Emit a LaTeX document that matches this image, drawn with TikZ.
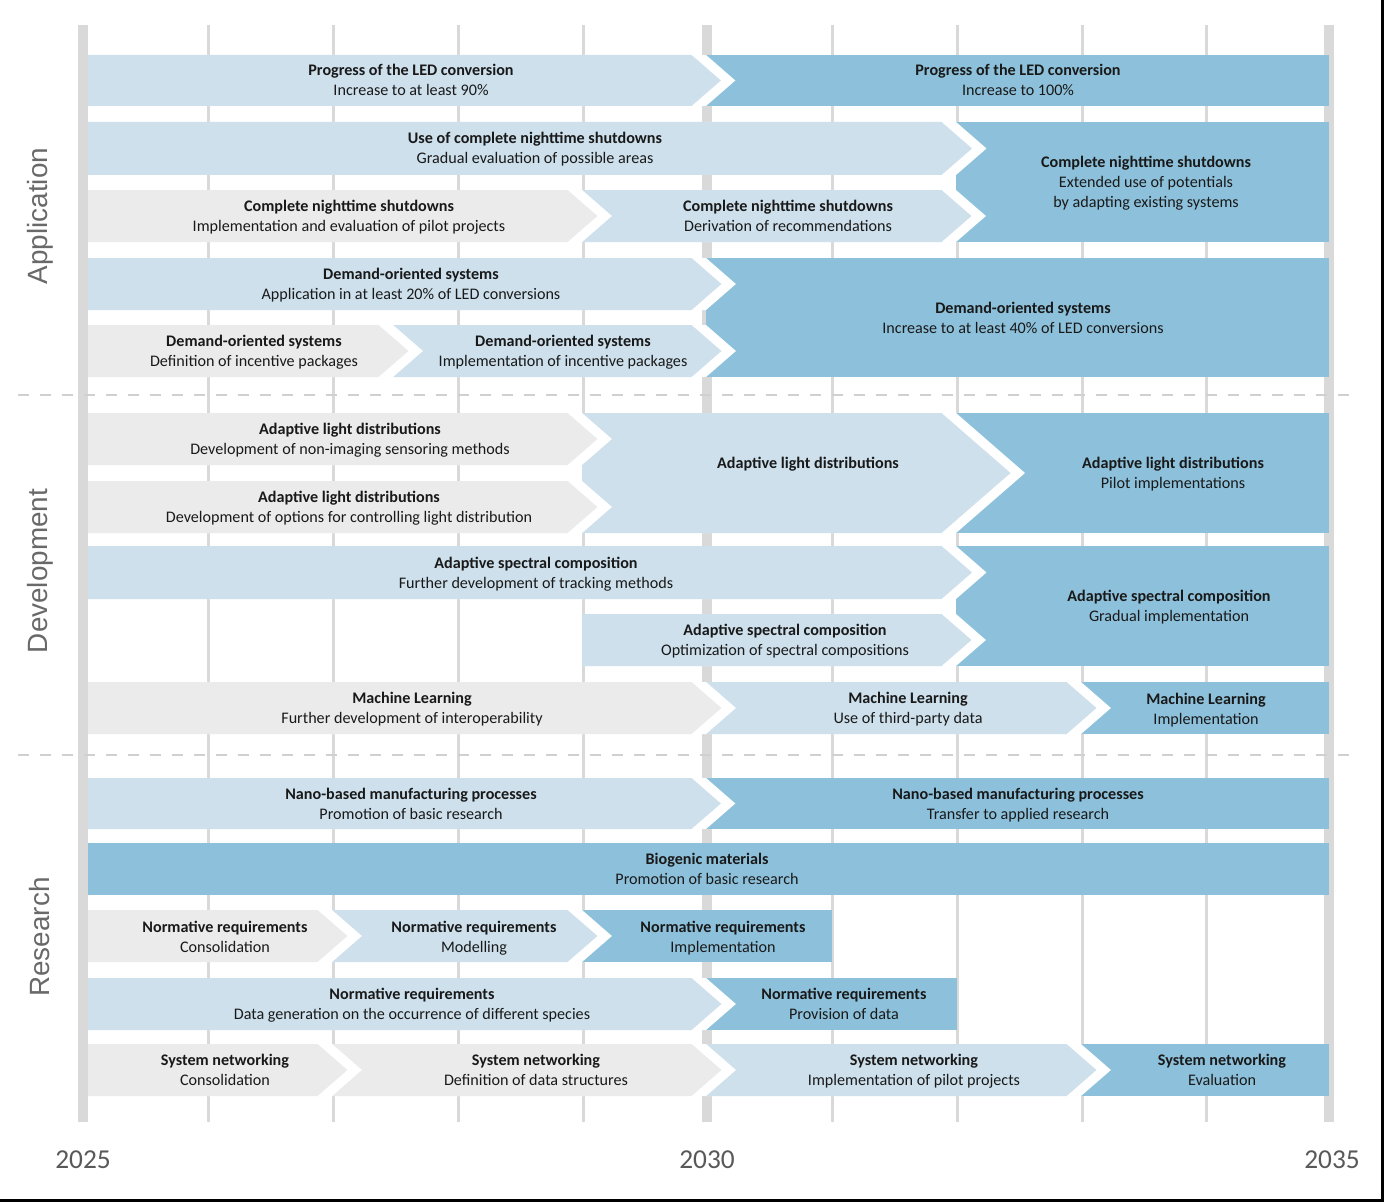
\documentclass[tikz,border=0pt]{standalone}
\usepackage{fontspec}
\setmainfont{Carlito}
\newfontfamily\sidefont{Liberation Sans}
\definecolor{ltblue}{RGB}{205,224,236}
\definecolor{dkblue}{RGB}{141,193,219}
\definecolor{graybar}{RGB}{235,235,235}
\definecolor{gridc}{RGB}{217,217,217}
\definecolor{txtc}{RGB}{25,25,25}
\definecolor{yearc}{RGB}{89,89,89}
\definecolor{sidec}{RGB}{105,105,105}
\definecolor{sepc}{RGB}{208,208,208}
\newcommand\arrowbar[5]{%
  \pgfmathsetmacro\xa{#2-15.5}%
  \pgfmathsetmacro\ym{(#3+#4)/2}%
  \pgfmathsetmacro\tp{1.15*(#4-#3)/2}%
  \pgfmathsetmacro\xb{\xa+14.5}%
  \fill[white] (#1,#3) -- (\xb,#3) -- ({\xb+\tp},\ym) -- (\xb,#4) -- (#1,#4) -- cycle;
  \fill[#5] (#1,#3) -- (\xa,#3) -- ({\xa+\tp},\ym) -- (\xa,#4) -- (#1,#4) -- cycle;
}
\begin{document}
\begin{tikzpicture}[x=0.75pt,y=-0.75pt,
  lbl/.style={align=center,inner sep=0pt,text=txtc,anchor=base,yshift=-11.25pt,font=\fontsize{12.1}{15}\selectfont},
  three/.style={yshift=-7.2pt},
  one/.style={yshift=15pt},
  thin grid/.style={draw=gridc,line width=2.25pt},
  thick grid/.style={draw=gridc,line width=7.5pt},
  sepline/.style={draw=sepc,line width=1.5pt,dash pattern=on 8.25pt off 8.25pt},
  yearlbl/.style={text=yearc,inner sep=0pt,font=\fontsize{20.5}{24}\selectfont},
  sidelbl/.style={text=sidec,inner sep=0pt,rotate=90,font=\sidefont\fontsize{20.9}{24}\selectfont}]
\useasboundingbox (0,0) rectangle (1384,1202);
\fill[white] (0,0) rectangle (1384,1202);
% frame (right and bottom)
\draw[black,line width=2.25pt] (0,1200.5) -- (1384,1200.5);
\draw[black,line width=2.25pt] (1382.5,0) -- (1382.5,1202);
% grid
\foreach \gx in {208,333,458,583,832,957,1082,1206}
  \draw[thin grid] (\gx,25) -- (\gx,1122);
\foreach \gx in {83,707,1329}
  \draw[thick grid] (\gx,25) -- (\gx,1122);
% separators
\draw[sepline] (18,395) -- (1356,395);
\draw[sepline] (18,755) -- (1356,755);
% tall dark blocks
\fill[dkblue] (956,122) rectangle (1329,242);
\fill[dkblue] (706,258) rectangle (1329,377);
\fill[dkblue] (956,413) rectangle (1329,533);
\fill[dkblue] (956,546) rectangle (1329,666);
% Row 1
\fill[dkblue] (706,55) rectangle (1329,106);
\arrowbar{88}{707}{55}{106}{ltblue}
% Row 2
\arrowbar{88}{957}{122}{175}{ltblue}
% Row 3
\arrowbar{582}{957}{190}{242}{ltblue}
\arrowbar{88}{583}{190}{242}{graybar}
% Row 4
\arrowbar{88}{707}{258}{310}{ltblue}
% Row 5
\arrowbar{393}{707}{325}{377}{ltblue}
\arrowbar{88}{394}{325}{377}{graybar}
% Rows 6-7
\arrowbar{582}{957}{413}{533}{ltblue}
\arrowbar{88}{583}{413}{465}{graybar}
\arrowbar{88}{583}{481}{533}{graybar}
% Row 8
\arrowbar{88}{957}{546}{599}{ltblue}
% Row 9
\arrowbar{582}{957}{614}{666}{ltblue}
% Row 10
\fill[dkblue] (1081,682) rectangle (1329,734);
\arrowbar{706}{1082}{682}{734}{ltblue}
\arrowbar{88}{707}{682}{734}{graybar}
% Row 11
\fill[dkblue] (706,778) rectangle (1329,829);
\arrowbar{88}{707}{778}{829}{ltblue}
% Row 12
\fill[dkblue] (88,843) rectangle (1329,895);
% Row 13
\fill[dkblue] (582,910) rectangle (832,962);
\arrowbar{332}{583}{910}{962}{ltblue}
\arrowbar{88}{333}{910}{962}{graybar}
% Row 14
\fill[dkblue] (706,978) rectangle (957,1030);
\arrowbar{88}{707}{978}{1030}{ltblue}
% Row 15
\fill[dkblue] (1081,1044) rectangle (1329,1096);
\arrowbar{706}{1082}{1044}{1096}{ltblue}
\arrowbar{332}{707}{1044}{1096}{graybar}
\arrowbar{88}{333}{1044}{1096}{graybar}
% ---------- labels ----------
\node[lbl] (a1) at (411,81) {\textbf{Progress of the LED conversion}\\Increase to at least 90\%};
\node[lbl] (a2) at (1018,81) {\textbf{Progress of the LED conversion}\\Increase to 100\%};
\node[lbl] (a3) at (535,149) {\textbf{Use of complete nighttime shutdowns}\\Gradual evaluation of possible areas};
\node[lbl,three] (a4) at (1146,182.5) {\textbf{Complete nighttime shutdowns}\\Extended use of potentials\\by adapting existing systems};
\node[lbl] (a5) at (349,216.5) {\textbf{Complete nighttime shutdowns}\\Implementation and evaluation of pilot projects};
\node[lbl] (a6) at (788,216.5) {\textbf{Complete nighttime shutdowns}\\Derivation of recommendations};
\node[lbl] (a7) at (411,284.5) {\textbf{Demand-oriented systems}\\Application in at least 20\% of LED conversions};
\node[lbl] (a8) at (1023,318) {\textbf{Demand-oriented systems}\\Increase to at least 40\% of LED conversions};
\node[lbl] (a9) at (254,351.5) {\textbf{Demand-oriented systems}\\Definition of incentive packages};
\node[lbl] (a10) at (563,351.5) {\textbf{Demand-oriented systems}\\Implementation of incentive packages};
\node[lbl] (d1) at (350,439.5) {\textbf{Adaptive light distributions}\\Development of non-imaging sensoring methods};
\node[lbl] (d2) at (349,507.5) {\textbf{Adaptive light distributions}\\Development of options for controlling light distribution};
\node[lbl,one] (d3) at (808,473.5) {\textbf{Adaptive light distributions}};
\node[lbl] (d4) at (1173,473.5) {\textbf{Adaptive light distributions}\\Pilot implementations};
\node[lbl] (d5) at (536,573) {\textbf{Adaptive spectral composition}\\Further development of tracking methods};
\node[lbl] (d6) at (785,640.5) {\textbf{Adaptive spectral composition}\\Optimization of spectral compositions};
\node[lbl] (d7) at (1169,606.5) {\textbf{Adaptive spectral composition}\\Gradual implementation};
\node[lbl] (d8) at (412,708.5) {\textbf{Machine Learning}\\Further development of interoperability};
\node[lbl] (d9) at (908,708.5) {\textbf{Machine Learning}\\Use of third-party data};
\node[lbl] (d10) at (1206,709) {\textbf{Machine Learning}\\Implementation};
\node[lbl] (r1) at (411,804) {\textbf{Nano-based manufacturing processes}\\Promotion of basic research};
\node[lbl] (r2) at (1018,804) {\textbf{Nano-based manufacturing processes}\\Transfer to applied research};
\node[lbl] (r3) at (707,869.5) {\textbf{Biogenic materials}\\Promotion of basic research};
\node[lbl] (r4) at (225,937) {\textbf{Normative requirements}\\Consolidation};
\node[lbl] (r5) at (474,937) {\textbf{Normative requirements}\\Modelling};
\node[lbl] (r6) at (723,937) {\textbf{Normative requirements}\\Implementation};
\node[lbl] (r7) at (412,1004.5) {\textbf{Normative requirements}\\Data generation on the occurrence of different species};
\node[lbl] (r8) at (844,1004.5) {\textbf{Normative requirements}\\Provision of data};
\node[lbl] (r9) at (225,1070.5) {\textbf{System networking}\\Consolidation};
\node[lbl] (r10) at (536,1070.5) {\textbf{System networking}\\Definition of data structures};
\node[lbl] (r11) at (914,1070.5) {\textbf{System networking}\\Implementation of pilot projects};
\node[lbl] (r12) at (1222,1070.5) {\textbf{System networking}\\Evaluation};
% years
\node[yearlbl] (y1) at (83,1160) {2025};
\node[yearlbl] (y2) at (707,1160) {2030};
\node[yearlbl] (y3) at (1332,1160) {2035};
% side labels
\node[sidelbl] (s1) at (40,216) {Application};
\node[sidelbl] (s2) at (40,571) {Development};
\node[sidelbl] (s3) at (40,937) {Research};
\end{tikzpicture}
\end{document}
